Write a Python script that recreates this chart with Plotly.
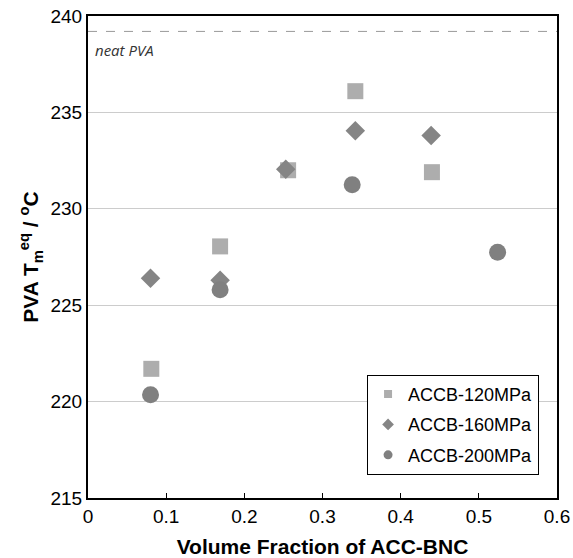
import plotly.graph_objects as go

x_120 = [0.081, 0.169, 0.256, 0.342, 0.440]
y_120 = [221.7, 228.05, 232.0, 236.1, 231.9]

x_160 = [0.080, 0.169, 0.253, 0.342, 0.439]
y_160 = [226.4, 226.3, 232.05, 234.05, 233.8]

x_200 = [0.080, 0.169, 0.338, 0.524]
y_200 = [220.35, 225.8, 231.25, 227.75]

neat_pva = 239.2

x_ticks = [0, 0.1, 0.2, 0.3, 0.4, 0.5, 0.6]
x_tick_labels = ["0", "0.1", "0.2", "0.3", "0.4", "0.5", "0.6"]
y_ticks = [215, 220, 225, 230, 235, 240]

series = [
    ("ACCB-120MPa", x_120, y_120, "square", 16, "#adadad", 8),
    ("ACCB-160MPa", x_160, y_160, "diamond", 15, "#858585", 9),
    ("ACCB-200MPa", x_200, y_200, "circle", 17, "#808080", 9),
]

fig = go.Figure()
for name, xs, ys, sym, size, color, lsize in series:
    fig.add_trace(go.Scatter(x=xs, y=ys, mode="markers", name=name, showlegend=False,
                             marker=dict(symbol=sym, size=size, color=color)))
for name, xs, ys, sym, size, color, lsize in series:
    # legend-only entry with the small legend glyph
    fig.add_trace(go.Scatter(x=[None], y=[None], mode="markers", name=name, legendgroup=name,
                             marker=dict(symbol=sym, size=lsize, color=color)))

fig.add_shape(type="line", xref="x", yref="y", x0=0, x1=0.6, y0=neat_pva, y1=neat_pva,
              line=dict(color="#999999", width=1, dash="dash"))
fig.add_annotation(text="<i>neat PVA</i>", xref="paper", yref="y", x=0.011, y=238.85,
                   xanchor="left", yanchor="top", showarrow=False,
                   font=dict(family="Open Sans", size=15, color="#333333"))

font_main = "Liberation Sans, Arial, sans-serif"
fig.update_layout(
    width=573, height=558,
    margin=dict(l=88, r=16, t=16, b=60),
    plot_bgcolor="white", paper_bgcolor="white",
    font=dict(family=font_main, color="black"),
    legend=dict(x=0.595, y=0.048, xanchor="left", yanchor="bottom",
                bgcolor="white", bordercolor="black", borderwidth=1,
                font=dict(size=18, family=font_main, color="black"),
                traceorder="grouped", tracegroupgap=4),
    xaxis=dict(range=[0, 0.6], tickvals=x_ticks, ticktext=x_tick_labels,
               ticks="inside", ticklen=5, tickcolor="black", showgrid=False,
               showline=True, linecolor="black", linewidth=2, mirror=True,
               zeroline=False, tickfont=dict(size=19), automargin=False,
               title=dict(text="<b>Volume Fraction of ACC-BNC</b>", font=dict(size=21), standoff=14)),
    yaxis=dict(range=[215, 240], tickvals=y_ticks, ticks="", showgrid=True,
               gridcolor="#cccccc", gridwidth=1, automargin=False,
               showline=True, linecolor="black", linewidth=2, mirror=True,
               zeroline=False, tickfont=dict(size=19),
               title=dict(text="<b>PVA T<sub>m</sub><sup>eq</sup> / <sup>o</sup>C</b>", font=dict(size=21), standoff=6)),
)

fig.write_html("out.html", config={"displayModeBar": False},
               post_script="document.body.style.margin='0px';")
